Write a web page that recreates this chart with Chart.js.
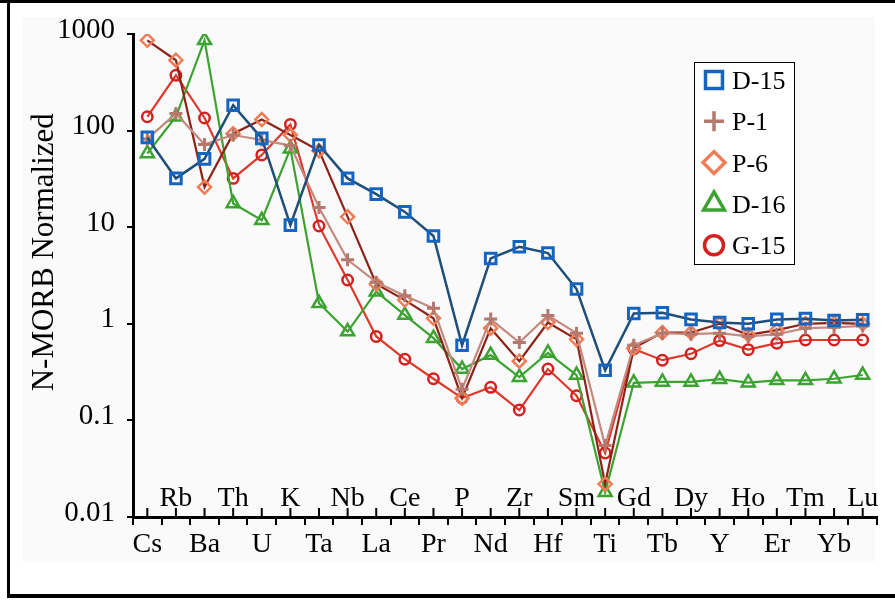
<!DOCTYPE html>
<html><head><meta charset="utf-8">
<script src="https://cdn.jsdelivr.net/npm/chart.js@4.4.1/dist/chart.umd.min.js"></script>
<style>html,body{margin:0;padding:0;background:#fff;}#wrap{width:895px;height:601px;}</style>
</head><body><div id="wrap"><canvas id="c" width="895" height="601"></canvas></div>
<script>
const categories = ['Cs','Rb','Ba','Th','U','K','Ta','Nb','La','Ce','Pr','P','Nd','Zr','Hf','Sm','Ti','Gd','Tb','Dy','Y','Ho','Er','Tm','Yb','Lu'];
const seriesNames = ['D-15','P-1','P-6','D-16','G-15'];
const d15 = [85, 32, 51, 183, 83, 10.5, 71, 32, 22, 14.4, 8.1, 0.60, 4.75, 6.27, 5.4, 2.29, 0.33, 1.28, 1.30, 1.11, 1.03, 1.0, 1.11, 1.13, 1.08, 1.1];
const p1  = [82, 150, 72, 90, 80, 70, 16, 4.6, 2.7, 1.95, 1.45, 0.21, 1.12, 0.64, 1.22, 0.8, 0.055, 0.6, 0.8, 0.78, 0.8, 0.74, 0.78, 0.9, 0.92, 0.95];
const p6  = [860, 535, 26, 93, 130, 90, 62, 12.8, 2.58, 1.76, 1.14, 0.17, 0.9, 0.41, 1.03, 0.69, 0.022, 0.56, 0.81, 0.81, 1.0, 0.77, 0.86, 1.0, 1.02, 1.0];
const d16 = [58, 139, 860, 17.6, 11.8, 65, 1.63, 0.83, 2.15, 1.23, 0.71, 0.34, 0.475, 0.28, 0.50, 0.295, 0.018, 0.245, 0.25, 0.25, 0.267, 0.246, 0.26, 0.26, 0.27, 0.295];
const g15 = [139, 374, 135, 32, 56, 116, 10.3, 2.84, 0.74, 0.43, 0.27, 0.17, 0.22, 0.128, 0.34, 0.18, 0.046, 0.55, 0.42, 0.49, 0.67, 0.54, 0.63, 0.68, 0.68, 0.68];
const yTickLabels = ['0.01','0.1','1','10','100','1000'];
const yAxisTitle = 'N-MORB Normalized';

const styles = [
  {line:'#1f4e79', mark:'#1565c0', shape:'rect', r:7.5, bw:3, lw:2.5, lr:12},
  {line:'#c48a80', mark:'#b4786d', shape:'cross', r:6.5, bw:3, lw:2.2, lr:10},
  {line:'#8c2318', mark:'#f07d55', shape:'rectRot', r:6.5, bw:2.5, lw:2.2, lr:11},
  {line:'#3ca332', mark:'#3ca332', shape:'triangle', r:7.5, bw:2.5, lw:2.2, lr:12},
  {line:'#dc3a2c', mark:'#d42020', shape:'circle', r:5.2, bw:2.5, lw:2.2, lr:9.5}
];
const values = [d15, p1, p6, d16, g15];
const FONT = 'Liberation Serif';

function marker(ctx, shape, x, y, r){
  ctx.beginPath();
  if (shape === 'rect'){ const s = Math.SQRT1_2*r; ctx.rect(x-s, y-s, 2*s, 2*s); }
  else if (shape === 'rectRot'){ ctx.moveTo(x-r,y); ctx.lineTo(x,y-r); ctx.lineTo(x+r,y); ctx.lineTo(x,y+r); ctx.closePath(); }
  else if (shape === 'triangle'){ const a = 2*Math.PI/3; ctx.moveTo(x, y-r); ctx.lineTo(x+Math.sin(a)*r, y-Math.cos(a)*r); ctx.lineTo(x+Math.sin(2*a)*r, y-Math.cos(2*a)*r); ctx.closePath(); }
  else if (shape === 'cross'){ ctx.moveTo(x-r,y); ctx.lineTo(x+r,y); ctx.moveTo(x,y-r); ctx.lineTo(x,y+r); }
  else { ctx.arc(x,y,r,0,Math.PI*2); }
  ctx.stroke();
}

const decor = {
  id:'decor',
  beforeDraw(chart){
    const ctx = chart.ctx; ctx.save();
    ctx.fillStyle = '#fff'; ctx.fillRect(0,0,chart.width,chart.height);
    ctx.fillStyle = '#fafafa'; ctx.fillRect(23,17,852,545);
    ctx.restore();
  },
  afterDraw(chart){
    const ctx = chart.ctx, xs = chart.scales.x, area = chart.chartArea;
    ctx.save();
    ctx.strokeStyle = '#000'; ctx.lineWidth = 2;
    categories.forEach((c,i)=>{ const x = xs.getPixelForValue(i); ctx.beginPath(); ctx.moveTo(x, area.bottom); ctx.lineTo(x, area.bottom-9); ctx.stroke(); });
    ctx.fillStyle = '#000'; ctx.font = '28px "'+FONT+'"'; ctx.textAlign = 'center'; ctx.textBaseline = 'alphabetic';
    categories.forEach((c,i)=>{ if (i % 2 === 1) ctx.fillText(c, xs.getPixelForValue(i), area.bottom-11); });
    // frame
    ctx.fillRect(0,0,895,3); ctx.fillRect(7,0,3,598); ctx.fillRect(7,594,888,4);
    // legend
    const lx = 694, ly = 62, lw = 100, lh = 202;
    ctx.fillStyle = '#fff'; ctx.fillRect(lx,ly,lw,lh);
    ctx.strokeStyle = '#000'; ctx.lineWidth = 1; ctx.strokeRect(lx+0.5, ly+0.5, lw, lh);
    ctx.font = '26px "'+FONT+'"'; ctx.textAlign = 'left';
    seriesNames.forEach((n,i)=>{
      const cy = 80 + i*41.3; const st = styles[i];
      ctx.strokeStyle = st.mark; ctx.lineWidth = 3.5; marker(ctx, st.shape, 714, cy, st.lr);
      ctx.fillStyle = '#000'; ctx.fillText(n, 732, cy+9);
    });
    ctx.restore();
  }
};

new Chart(document.getElementById('c'), {
  type: 'line',
  data: {
    labels: categories,
    datasets: seriesNames.map((n,i)=>({
      label: n, data: values[i],
      borderColor: styles[i].line, borderWidth: styles[i].lw,
      pointStyle: styles[i].shape, pointRadius: styles[i].r, pointBorderWidth: styles[i].bw,
      pointBorderColor: styles[i].mark, pointBackgroundColor: 'rgba(0,0,0,0)',
      tension: 0, fill: false
    }))
  },
  options: {
    responsive: false, animation: false, devicePixelRatio: 1,
    layout: {padding: {left: 20, right: 18, top: 34, bottom: 30}},
    plugins: {legend: {display: false}, tooltip: {enabled: false}},
    scales: {
      x: {
        type: 'category', offset: true,
        grid: {offset: true, drawOnChartArea: false, drawTicks: true, tickLength: 8, color: '#000', lineWidth: 2},
        border: {display: true, color: '#000', width: 3},
        ticks: {autoSkip: false, maxRotation: 0, minRotation: 0, padding: 3, color: '#000', font: {family: FONT, size: 28},
          callback: (v,i) => (i % 2 === 0 ? categories[i] : '')},
        afterFit: s => { s.height = 54; }
      },
      y: {
        type: 'logarithmic', min: 0.01, max: 1000,
        grid: {drawOnChartArea: false, drawTicks: true, tickLength: 6, color: '#000', lineWidth: 2},
        border: {display: true, color: '#000', width: 3},
        ticks: {autoSkip: false, color: '#000', padding: 12, labelOffset: -4, font: {family: FONT, size: 29},
          callback: v => { const l = Math.log10(v), r = Math.round(l); return Math.abs(l-r) < 1e-6 ? yTickLabels[r+2] : null; }},
        title: {display: true, text: '      ' + yAxisTitle, color: '#000', font: {family: FONT, size: 31}, padding: {top: 6, bottom: 0}},
        afterFit: s => { s.width = 113; }
      }
    }
  },
  plugins: [decor]
});
</script></body></html>
